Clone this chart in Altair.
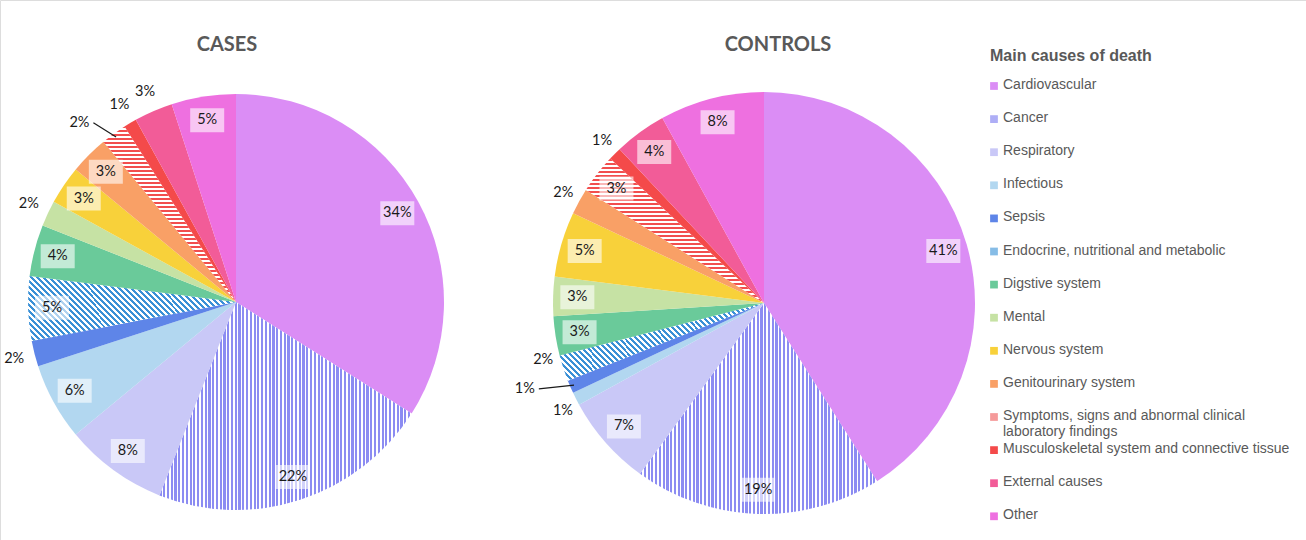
import altair as alt
import pandas as pd

# ---------------- data ----------------
pies = ["CASES", "CONTROLS"]
categories = [
    "Cardiovascular",
    "Cancer",
    "Respiratory",
    "Infectious",
    "Sepsis",
    "Endocrine, nutritional and metabolic",
    "Digstive system",
    "Mental",
    "Nervous system",
    "Genitourinary system",
    "Symptoms, signs and abnormal clinical laboratory findings",
    "Musculoskeletal system and connective tissue",
    "External causes",
    "Other",
]
cases_pct = [34, 22, 8, 6, 2, 5, 4, 2, 3, 3, 2, 1, 3, 5]
controls_pct = [41, 19, 7, 1, 1, 2, 3, 3, 5, 2, 3, 1, 4, 8]
legend_title = "Main causes of death"

# ---------------- style ----------------
colors = [
    "#DB8DF5",  # Cardiovascular
    "#AEAEF6",  # Cancer
    "#C9C8F7",  # Respiratory
    "#B2D7F0",  # Infectious
    "#5E85E8",  # Sepsis
    "#86BCE6",  # Endocrine
    "#6ACA9A",  # Digestive
    "#C6E2A4",  # Mental
    "#F8D13A",  # Nervous
    "#F9A066",  # Genitourinary
    "#F59A9A",  # Symptoms
    "#F44A4A",  # Musculoskeletal
    "#F25C98",  # External
    "#EE70E0",  # Other
]
SYM = categories[10]
END = categories[5]
outside_extra = {("CASES", "External causes")}
leader_nudge = {("CASES", SYM): (-22, 6), ("CONTROLS", "Sepsis"): (-29, -5)}
label_nudge = {("CONTROLS", END): (-3, -14), ("CONTROLS", "Infectious"): (3, 4)}


def stripes(c, n, frac, x1, y1, x2, y2):
    stops = []
    for i in range(n):
        a, b, e = i / n, (i + frac) / n, (i + 1) / n
        stops += [
            {"offset": a, "color": c},
            {"offset": b, "color": c},
            {"offset": b, "color": "#ffffff"},
            {"offset": e, "color": "#ffffff"},
        ]
    return {"gradient": "linear", "x1": x1, "y1": y1, "x2": x2, "y2": y2, "stops": stops}


def diag(c, n, k):
    s = (1 + k) / (1 + k * k)
    return stripes(c, n, 0.5, 0, 1, s, 1 - k * s)


conds = [
    {"test": "datum.pie==='CASES' && datum.cat==='Cancer'",
     "value": stripes("#8C8CF2", 67, 0.58, 0, 0, 1, 0)},
    {"test": "datum.pie==='CONTROLS' && datum.cat==='Cancer'",
     "value": stripes("#8C8CF2", 63, 0.58, 0, 0, 1, 0)},
    {"test": f"datum.pie==='CASES' && datum.cat==='{END}'",
     "value": diag("#3A90D6", 46, 0.31)},
    {"test": f"datum.pie==='CONTROLS' && datum.cat==='{END}'",
     "value": diag("#3A90D6", 48, 0.37)},
    {"test": f"datum.pie==='CASES' && datum.cat==='{SYM}'",
     "value": stripes("#F24E4E", 44, 0.5, 0, 0, 0, 1)},
    {"test": f"datum.pie==='CONTROLS' && datum.cat==='{SYM}'",
     "value": stripes("#F24E4E", 36, 0.5, 0, 0, 0, 1)},
]

rows = []
for pie, vals in zip(pies, [cases_pct, controls_pct]):
    for i, (c, v) in enumerate(zip(categories, vals)):
        nx, ny = leader_nudge.get((pie, c), label_nudge.get((pie, c), (0, 0)))
        rows.append(dict(
            pie=pie, cat=c, pct=v, order=i,
            outside=bool(v <= 2 or (pie, c) in outside_extra),
            leader=bool((pie, c) in leader_nudge), nx=nx, ny=ny,
        ))
df = pd.DataFrame(rows)

LABEL_FONT = "Lato"
TXT = "#595959"

base = (
    alt.Chart(df)
    .transform_joinaggregate(total="sum(pct)", groupby=["pie"])
    .transform_window(cum="sum(pct)", sort=[alt.SortField("order")], groupby=["pie"],
                      frame=[None, 0])
    .transform_calculate(
        cx="datum.pie==='CASES' ? 236 : 764",
        cy="datum.pie==='CASES' ? 302 : 303",
        R="datum.pie==='CASES' ? 208 : 211",
    )
    .transform_calculate(
        t1="2*PI*datum.cum/datum.total",
        t0="2*PI*(datum.cum-datum.pct)/datum.total",
    )
    .transform_calculate(tm="(datum.t0+datum.t1)/2")
    .transform_calculate(lr="datum.outside ? 229 : datum.R*0.885")
    .transform_calculate(
        lx="datum.cx + datum.lr*sin(datum.tm) + datum.nx",
        ly="datum.cy - datum.lr*cos(datum.tm) + datum.ny",
        ex="datum.cx + (datum.R-4)*sin(datum.tm)",
        ey="datum.cy - (datum.R-4)*cos(datum.tm)",
        label="format(datum.pct,'d')+'%'",
    )
)

arcs = base.mark_arc().encode(
    theta=alt.Theta("t0:Q", scale=None),
    theta2=alt.Theta2("t1:Q"),
    radius=alt.Radius("R:Q", scale=None),
    x=alt.X("cx:Q", scale=None),
    y=alt.Y("cy:Q", scale=None),
    color=alt.Color("cat:N", scale=alt.Scale(domain=categories, range=colors),
                    legend=None, condition=conds),
)

boxes = (
    base.transform_filter("!datum.outside")
    .transform_calculate(
        bx0="datum.lx-17", bx1="datum.lx+17", by0="datum.ly-12", by1="datum.ly+12"
    )
    .mark_rect(color="white", opacity=0.6)
    .encode(
        x=alt.X("bx0:Q", scale=None), x2="bx1:Q",
        y=alt.Y("by0:Q", scale=None), y2="by1:Q",
    )
)

labels = base.mark_text(font=LABEL_FONT, fontSize=14.5, color="#1a1a1a",
                        align="center", baseline="middle").encode(
    x=alt.X("lx:Q", scale=None), y=alt.Y("ly:Q", scale=None), text="label:N"
)

leaders = (
    base.transform_filter("datum.leader")
    .transform_calculate(lxe="datum.lx+14")
    .mark_rule(color="#1a1a1a", strokeWidth=1.2)
    .encode(
        x=alt.X("lxe:Q", scale=None), y=alt.Y("ly:Q", scale=None),
        x2="ex:Q", y2="ey:Q",
    )
)

titles = (
    alt.Chart(pd.DataFrame({"pie": pies}))
    .transform_calculate(tx="datum.pie==='CASES' ? 227 : 778")
    .mark_text(font=LABEL_FONT, fontSize=20, fontWeight="bold", color=TXT,
               align="center", baseline="middle")
    .encode(x=alt.X("tx:Q", scale=None), y=alt.value(45), text="pie:N")
)

leg_df = pd.DataFrame({"cat": categories, "idx": list(range(len(categories)))})
leg_base = alt.Chart(leg_df).transform_calculate(
    yy="86 + 33.1*datum.idx",
    txt=f"datum.cat==='{SYM}' ? 'Symptoms, signs and abnormal clinical\\nlaboratory findings' : datum.cat",
)
leg_sq = leg_base.mark_square(size=60, opacity=1).encode(
    x=alt.value(994), y=alt.Y("yy:Q", scale=None),
    color=alt.Color("cat:N", scale=alt.Scale(domain=categories, range=colors), legend=None),
)
leg_txt = leg_base.transform_calculate(ty="datum.yy-8").mark_text(
    font="Liberation Sans", fontSize=14, color=TXT, align="left", baseline="top",
    lineBreak="\n", lineHeight=16,
).encode(x=alt.value(1003), y=alt.Y("ty:Q", scale=None), text="txt:N")

leg_title = (
    alt.Chart(pd.DataFrame({"t": [legend_title]}))
    .mark_text(font="Liberation Sans", fontSize=16, fontWeight="bold", color=TXT,
               align="left", baseline="middle")
    .encode(x=alt.value(990), y=alt.value(56), text="t:N")
)

chart = (
    alt.layer(arcs, boxes, labels, leaders, titles, leg_sq, leg_txt, leg_title)
    .properties(width=1306, height=540, padding=0, autosize=alt.AutoSizeParams(type="none"))
    .configure_view(strokeWidth=0)
    .configure(background="white")
)

chart.save("out.html", embed_options={"renderer": "svg", "actions": False})
